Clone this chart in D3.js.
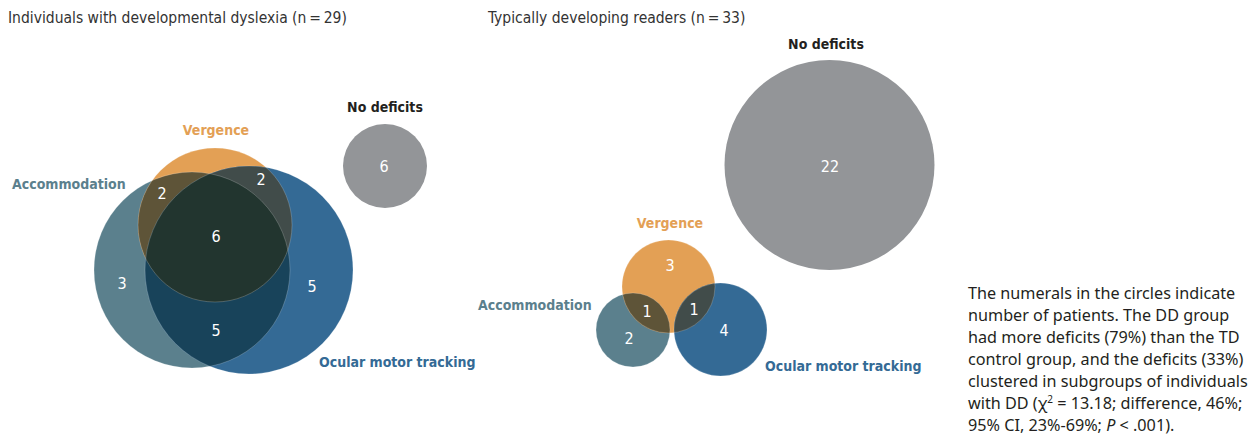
<!DOCTYPE html>
<meta charset="utf-8">
<head>
<style>
body { margin: 0; background: #fff; }
svg text { font-family: "DejaVu Sans Condensed", "Liberation Sans Narrow", sans-serif; font-stretch: condensed; }
.title { font-size: 15.5px; fill: #333; }
.setlabel { font-size: 14px; font-weight: 600; }
.count { font-size: 16px; fill: #fff; text-anchor: middle; dominant-baseline: central; }
.note { font-family: "Noto Sans", sans-serif; font-stretch: normal; font-size: 16.2px; fill: #231f20; }
</style>
</head>
<body>
<svg width="1254" height="442"></svg>
<script src="https://cdnjs.cloudflare.com/ajax/libs/d3/7.8.5/d3.min.js"></script>
<script>

// sets and their colours
var setNames = ["Accommodation", "Vergence", "Ocular motor tracking", "No deficits"];
var setColors = ["#5b808d", "#e3a055", "#346a95", "#939598"];
// overlap fills: A∩V, A∩O, V∩O, A∩V∩O
var overlapColors = ["#5e5438", "#18435a", "#414c4a", "#22352f"];

// panel titles
var panelTitles = ["Individuals with developmental dyslexia (n\u2009=\u200929)", "Typically developing readers (n\u2009=\u200933)"];

// region counts (which sets the region belongs to, number of patients)
var ddRegions = ["A", "AV", "VO", "AVO", "O", "AO", "N"];
var ddCounts  = [3, 2, 2, 6, 5, 5, 6];
var tdRegions = ["V", "AV", "VO", "A", "O", "N"];
var tdCounts  = [3, 1, 1, 2, 4, 22];

var note = ["The numerals in the circles indicate", "number of patients. The DD group",
  "had more deficits (79%) than the TD", "control group, and the deficits (33%)",
  "clustered in subgroups of individuals", "with DD (\u03c7² = 13.18; difference, 46%;",
  "95% CI, 23%-69%; P < .001)."];

// layout: circle placement per panel (A, V, O, N) and count label spots
var layout = [
  { circles: [[192, 270, 98], [215, 225, 77], [249, 270, 104], [385, 166, 42]],
    labels: { A: [122, 283], AV: [162, 193], VO: [261, 179], AVO: [216, 236], O: [312, 286], AO: [216, 330], N: [384, 166] },
    setLabels: [[12, 184, "start"], [216, 130, "middle"], [319, 362, "start"], [385, 107, "middle"]],
    titleX: 8 },
  { circles: [[633, 330, 37], [668.5, 286.5, 46.5], [720.5, 329.5, 46.5], [829.5, 165, 105]],
    labels: { V: [670, 265], AV: [647, 311], VO: [694, 309], A: [629, 338], O: [724, 330], N: [830, 166] },
    setLabels: [[478, 305, "start"], [670, 223, "middle"], [765, 366, "start"], [826, 44, "middle"]],
    titleX: 488 }
];

var svg = d3.select("svg");
var defs = svg.append("defs");

var panels = [{ regions: ddRegions, counts: ddCounts }, { regions: tdRegions, counts: tdCounts }];

function circ(sel, c) {
  return sel.attr("cx", c[0]).attr("cy", c[1]).attr("r", c[2]);
}

panels.forEach(function(p, i) {
  var L = layout[i];
  svg.append("text").attr("class", "title")
      .attr("x", L.titleX).attr("y", 23)
      .text(panelTitles[i]);

  // clip paths for each set circle
  ["A", "V", "O"].forEach(function(k, j) {
    circ(defs.append("clipPath").attr("id", "clip" + i + k).append("circle"), L.circles[j]);
  });

  var g = svg.append("g");
  g.selectAll("circle.set")
    .data(setNames)
    .enter().append("circle")
      .attr("class", "set")
      .attr("cx", function(d, j) { return L.circles[j][0]; })
      .attr("cy", function(d, j) { return L.circles[j][1]; })
      .attr("r", function(d, j) { return L.circles[j][2]; })
      .attr("fill", function(d, j) { return setColors[j]; });

  // pairwise overlaps
  var pairs = [["A", 1, 0], ["A", 2, 1], ["V", 2, 2]];
  pairs.forEach(function(q) {
    circ(g.append("g").attr("clip-path", "url(#clip" + i + q[0] + ")").append("circle"), L.circles[q[1]])
      .attr("fill", overlapColors[q[2]]);
  });
  // triple overlap
  circ(g.append("g").attr("clip-path", "url(#clip" + i + "A)")
      .append("g").attr("clip-path", "url(#clip" + i + "V)")
      .append("circle"), L.circles[2])
    .attr("fill", overlapColors[3]);

  // faint edges inside the overlaps
  g.append("g").selectAll("circle")
    .data(setNames.slice(0, 3))
    .enter().append("circle")
      .attr("cx", function(d, j) { return L.circles[j][0]; })
      .attr("cy", function(d, j) { return L.circles[j][1]; })
      .attr("r", function(d, j) { return L.circles[j][2]; })
      .attr("fill", "none")
      .attr("stroke", "#fff")
      .attr("stroke-opacity", 0.25)
      .attr("stroke-width", 0.8);

  svg.append("g").selectAll("text")
    .data(p.regions)
    .enter().append("text")
      .attr("class", "count")
      .attr("x", function(d) { return L.labels[d][0]; })
      .attr("y", function(d) { return L.labels[d][1]; })
      .text(function(d, j) { return p.counts[j]; });

  svg.append("g").selectAll("text")
    .data(setNames)
    .enter().append("text")
      .attr("class", "setlabel")
      .attr("x", function(d, j) { return L.setLabels[j][0]; })
      .attr("y", function(d, j) { return L.setLabels[j][1] + 5; })
      .attr("text-anchor", function(d, j) { return L.setLabels[j][2]; })
      .attr("fill", function(d, j) { return j == 3 ? "#231f20" : setColors[j]; })
      .text(function(d) { return d; });
});

var noteText = svg.append("g").selectAll("text")
  .data(note)
  .enter().append("text")
    .attr("class", "note")
    .attr("x", 968)
    .attr("y", function(d, i) { return 299 + i * 22; });

noteText.each(function(d) {
  var t = d3.select(this);
  if (d.indexOf("\u03c7²") >= 0) {
    var parts = d.split("\u03c7²");
    t.append("tspan").text(parts[0] + "\u03c7");
    t.append("tspan").attr("dy", -6).attr("font-size", "10px").text("2");
    t.append("tspan").attr("dy", 6).text(parts[1]);
  } else if (d.indexOf("P <") >= 0) {
    var q = d.split("P");
    t.append("tspan").text(q[0]);
    t.append("tspan").attr("font-style", "italic").text("P");
    t.append("tspan").text(q[1]);
  } else {
    t.text(d);
  }
});

</script>
</body>
</html>
